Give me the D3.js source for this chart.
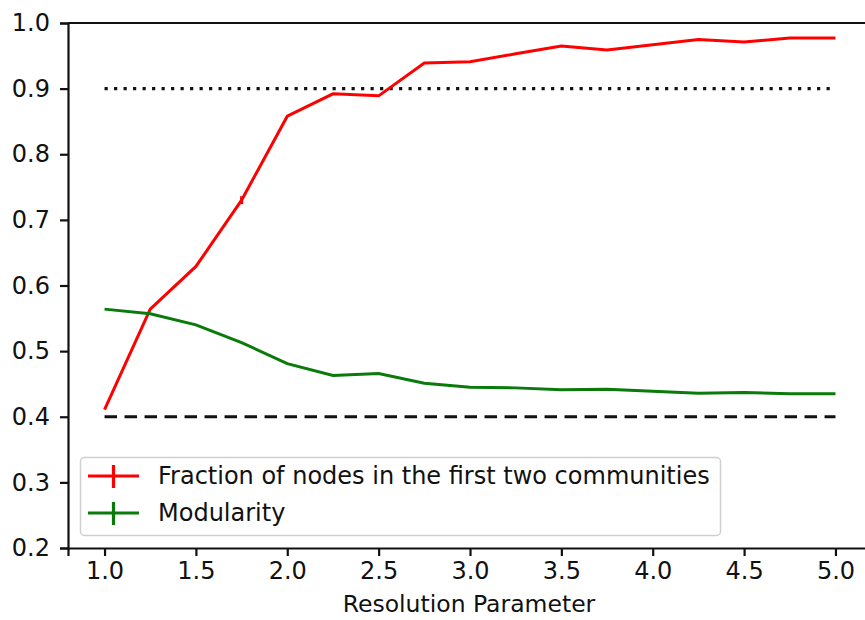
<script src="https://d3js.org/d3.v7.min.js"></script>
<style>
body { margin: 0; background: #fff; }
svg { display: block; }
.axis text { font-family: "DejaVu Sans", sans-serif; font-size: 24px; fill: #111; }
.axis path, .axis line { stroke: #111; stroke-width: 2.2px; }
.line-frac { fill: none; stroke: #ff0000; stroke-width: 3px; }
.line-mod { fill: none; stroke: #0a7a0a; stroke-width: 3px; }
.legend text { font-family: "DejaVu Sans", sans-serif; font-size: 24px; fill: #111; }
</style>
<div id="chart"></div>
<script>
var resolution = [1.0, 1.25, 1.5, 1.75, 2.0, 2.25, 2.5, 2.75, 3.0, 3.25, 3.5, 3.75, 4.0, 4.25, 4.5, 4.75, 5.0];
var fraction   = [0.411, 0.564, 0.629, 0.730, 0.858, 0.892, 0.889, 0.939, 0.941, 0.953, 0.965, 0.959, 0.967, 0.975, 0.971, 0.977, 0.977];
var fracErr    = [0, 0, 0, 0.006, 0, 0, 0, 0, 0, 0, 0, 0, 0, 0, 0, 0, 0];
var modularity = [0.564, 0.557, 0.540, 0.513, 0.481, 0.463, 0.466, 0.451, 0.445, 0.444, 0.441, 0.442, 0.439, 0.436, 0.437, 0.435, 0.435];
var modErr     = [0, 0, 0, 0, 0, 0, 0, 0, 0, 0, 0, 0, 0, 0, 0, 0, 0];
var upperRef = 0.9, lowerRef = 0.4;
var xTicks = [1.0, 1.5, 2.0, 2.5, 3.0, 3.5, 4.0, 4.5, 5.0];
var yTicks = [0.2, 0.3, 0.4, 0.5, 0.6, 0.7, 0.8, 0.9, 1.0];
var legendLabels = ["Fraction of nodes in the first two communities", "Modularity"];
var legendColors = ["#ff0000", "#0a7a0a"];

var W = 865, H = 620;
var x = d3.scaleLinear().domain([0.8, 5.2]).range([68, 872]);
var y = d3.scaleLinear().domain([0.2, 1.0]).range([548, 23]);

var svg = d3.select("#chart").append("svg")
    .attr("width", W)
    .attr("height", H);

// axes
svg.append("g")
    .attr("class", "axis axis--x")
    .attr("transform", "translate(0,548)")
    .call(d3.axisBottom(x).tickValues(xTicks).tickFormat(d3.format(".1f")).tickSizeOuter(0).tickSize(8).tickPadding(6));

svg.append("g")
    .attr("class", "axis axis--y")
    .attr("transform", "translate(68,0)")
    .call(d3.axisLeft(y).tickValues(yTicks).tickFormat(d3.format(".1f")).tickSizeOuter(0).tickSize(8).tickPadding(10));

// top spine
svg.append("line")
    .attr("x1", x(0.8)).attr("x2", x(5.2))
    .attr("y1", y(1.0)).attr("y2", y(1.0))
    .attr("stroke", "#111").attr("stroke-width", 2.2);

svg.append("text")
    .attr("x", 469).attr("y", 612)
    .attr("text-anchor", "middle")
    .style("font-family", "DejaVu Sans, sans-serif")
    .style("font-size", "23.5px")
    .attr("fill", "#111")
    .text("Resolution Parameter");

// reference lines
svg.append("line")
    .attr("x1", x(resolution[0])).attr("x2", x(resolution[resolution.length - 1]))
    .attr("y1", y(upperRef)).attr("y2", y(upperRef))
    .attr("stroke", "#111").attr("stroke-width", 3.2)
    .attr("stroke-dasharray", "3.2,6.3");

svg.append("line")
    .attr("x1", x(resolution[0])).attr("x2", x(resolution[resolution.length - 1]))
    .attr("y1", y(lowerRef)).attr("y2", y(lowerRef))
    .attr("stroke", "#111").attr("stroke-width", 3.2)
    .attr("stroke-dasharray", "12.5,7.5");

var line = d3.line()
    .x(function(d, i) { return x(resolution[i]); })
    .y(function(d) { return y(d); });

svg.append("path").datum(fraction).attr("class", "line-frac").attr("d", line);
svg.append("path").datum(modularity).attr("class", "line-mod").attr("d", line);

function errorBars(vals, errs, color) {
  svg.append("g").selectAll("line")
      .data(vals)
    .enter().append("line")
      .attr("x1", function(d, i) { return x(resolution[i]); })
      .attr("x2", function(d, i) { return x(resolution[i]); })
      .attr("y1", function(d, i) { return y(d - errs[i]); })
      .attr("y2", function(d, i) { return y(d + errs[i]); })
      .attr("stroke", color).attr("stroke-width", 3);
}
errorBars(fraction, fracErr, legendColors[0]);
errorBars(modularity, modErr, legendColors[1]);

// legend
var legend = svg.append("g").attr("class", "legend");
legend.append("rect")
    .attr("x", 80.5).attr("y", 457.5)
    .attr("width", 640).attr("height", 78)
    .attr("rx", 4)
    .attr("fill", "#fff").attr("fill-opacity", 0.85)
    .attr("stroke", "#d0d0d0").attr("stroke-width", 1.5);

var rows = legend.selectAll("g.row")
    .data(legendLabels)
  .enter().append("g")
    .attr("class", "row")
    .attr("transform", function(d, i) { return "translate(0," + (476 + i * 37) + ")"; });

rows.append("line")
    .attr("x1", 88).attr("x2", 139).attr("y1", 0).attr("y2", 0)
    .attr("stroke", function(d, i) { return legendColors[i]; }).attr("stroke-width", 3.2);
rows.append("line")
    .attr("x1", 113.5).attr("x2", 113.5).attr("y1", -11).attr("y2", 12)
    .attr("stroke", function(d, i) { return legendColors[i]; }).attr("stroke-width", 3.2);
rows.append("text")
    .attr("x", 158).attr("y", 0).attr("dy", "0.35em")
    .text(function(d) { return d; });
</script>
